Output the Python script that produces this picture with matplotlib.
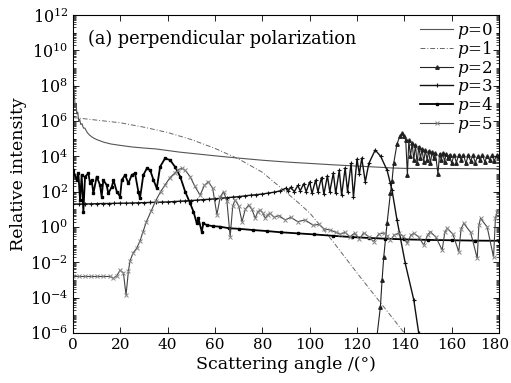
import numpy as np
import matplotlib
matplotlib.use("Agg")
import matplotlib.pyplot as plt
from matplotlib.ticker import FixedLocator, LogLocator, NullFormatter
from matplotlib.transforms import ScaledTranslation

plt.rcParams['font.family'] = ['DejaVu Serif']
plt.rcParams['mathtext.fontset'] = 'dejavuserif'

# values: angle (deg), log10(relative intensity)
p0_ang = [0, 0.3, 0.7, 1.0, 1.3, 1.6, 2.0, 2.4, 2.8, 3.3, 3.8, 4.4, 5, 6, 7, 8.5, 10, 13, 16, 20,
          25, 30, 35, 40, 45, 50, 60, 70, 80, 90, 100, 110, 120, 130, 135, 140, 150, 160, 170, 180]
p0_log = [8.4, 8.0, 7.2, 6.8, 7.0, 6.4, 6.5, 6.0, 6.1, 5.8, 5.85, 5.6, 5.6, 5.35, 5.2, 5.05, 4.95, 4.8, 4.7, 4.62,
          4.53, 4.47, 4.42, 4.33, 4.24, 4.17, 4.03, 3.9, 3.78, 3.68, 3.6, 3.52, 3.45, 3.38, 3.34, 3.32, 3.31, 3.31, 3.3, 3.3]

p1_ang = [0, 10, 20, 30, 40, 50, 60, 70, 80, 88, 95, 100, 105, 110, 120, 130, 140, 142]
p1_log = [6.2, 6.05, 5.9, 5.65, 5.35, 4.95, 4.45, 3.85, 3.1, 2.2, 1.4, 0.8, 0.0, -0.85, -2.6, -4.3, -6.0, -6.8]

p2_ang = [128.5, 129.9, 130.6, 131.3, 132.7, 134.1, 134.8, 135.5, 136.9, 138.1, 139.0, 140.0, 140.6, 141.3,
          141.9, 142.6, 143.3, 144.0, 144.7, 145.4, 146.1, 146.8, 147.5, 148.2, 148.9, 149.6, 150.3, 151.0,
          151.7, 152.4, 153.1, 154.2, 154.9, 155.6, 156.3, 157.0, 157.7, 158.4, 159.1, 160, 161, 162, 163,
          164, 165, 166, 167, 168, 169, 170, 171, 172, 173, 174, 175, 176, 177, 178, 179, 180]
p2_log = [-6.1, -4.5, -3.0, -1.7, 0.2, 1.9, 2.6, 3.6, 4.7, 5.15, 5.3, 5.15, 4.9, 2.95,
          4.9, 4.0, 4.75, 3.8, 4.65, 3.6, 4.55, 3.9, 4.4, 3.7, 4.35, 3.8, 4.3, 3.6,
          4.25, 3.9, 4.2, 3.0, 4.15, 3.8, 4.2, 3.7, 4.15, 3.9, 4.1, 3.6, 4.1, 3.65, 4.1,
          3.8, 4.1, 3.6, 4.05, 3.75, 4.05, 3.65, 4.0, 3.8, 4.05, 3.7, 4.0, 3.8, 4.05, 3.75, 4.05, 4.0]

p3_ang = [0, 2.5, 5, 7.5, 10, 12.5, 15, 17.5, 20, 22.5, 25, 27.5, 30, 32.5, 35, 37.5, 40, 42.5, 45,
          47.5, 50, 52.5, 55, 57.5, 60, 62.5, 65, 67.5, 70, 72.5, 75, 77.5, 80, 82.5, 85, 87.6,
          90, 91, 92, 93.5, 95, 96, 97.5, 98.5, 100, 101, 102.5, 103.5, 105, 106, 107.5, 108.5,
          110, 111, 112.5, 113.5, 115, 116, 117.5, 118.5, 120, 121, 122, 123.5, 125, 127.7,
          130, 132.7, 134.1, 134.8, 136.9, 140.4, 144.0, 146.1, 147]
p3_log = [1.3, 1.3, 1.31, 1.31, 1.32, 1.33, 1.33, 1.34, 1.35, 1.35, 1.36, 1.37, 1.38, 1.39, 1.4, 1.41, 1.42, 1.44, 1.46,
          1.48, 1.5, 1.52, 1.55, 1.57, 1.6, 1.63, 1.66, 1.69, 1.72, 1.76, 1.8, 1.83, 1.87, 1.92, 1.97, 2.05,
          2.2, 2.05, 2.25, 2.0, 2.35, 2.05, 2.45, 2.0, 2.55, 1.9, 2.65, 2.0, 2.8, 1.85, 2.9, 2.0,
          3.05, 1.9, 3.2, 1.8, 3.35, 2.0, 3.6, 1.7, 3.85, 3.0, 3.9, 2.56, 3.6, 4.36,
          4.0, 3.22, 2.47, 2.09, 0.4, -2.06, -4.13, -6.02, -6.8]

p4_ang = [0.1, 1.55, 2.26, 2.96, 3.66, 4.37, 5.08, 6.49, 7.19, 7.9, 8.6, 10.0, 11.4, 12.1, 12.8, 14.2,
          14.9, 16.4, 17.1, 18.5, 19.9, 20.6, 22.0, 23.4, 24.8, 26.2, 27.6, 28.3, 29.7, 31.2, 32.6,
          34.0, 35.4, 36.8, 38.9, 41.0, 43.1, 45.3, 47.4, 49.5, 50.9, 52.3, 53.0, 54.4, 55.1, 56.5,
          59, 62, 66, 70, 76, 82, 88, 95, 102, 110, 118, 125, 132, 140, 150, 160, 170, 180]
p4_log = [3.22, 2.66, 3.04, 1.53, 2.94, 0.87, 2.85, 3.04, 2.47, 2.66, 1.9, 2.85, 2.38, 1.72, 2.66, 2.38,
          1.9, 2.28, 2.66, 2.0, 1.72, 2.66, 2.94, 2.47, 2.94, 3.04, 2.0, 1.62, 2.94, 3.32, 3.22,
          2.66, 2.19, 3.41, 3.89, 3.79, 3.41, 2.85, 2.0, 1.34, 0.87, 0.21, 0.49, -0.27, 0.21, 0.11,
          0.05, 0.02, -0.07, -0.1, -0.17, -0.23, -0.3, -0.36, -0.42, -0.5, -0.57, -0.62, -0.66, -0.7,
          -0.73, -0.75, -0.77, -0.78]

p5_ang = [0, 2.5, 5, 7.5, 10, 12.5, 15.6, 17.1, 18.5, 19.9, 21.3, 22.4, 23.4, 24.1, 25.5, 26.9, 28.3,
          29.5, 31, 33, 35, 37, 39, 41, 43, 44.5, 46, 47.5, 49.5, 51.5, 53.7, 55.5, 57.2, 59, 60.8,
          62.2, 63.6, 65, 66.4, 67.5, 68.5, 70, 71.4, 72.8, 74.2, 75.6, 77.0, 78, 79.1, 80.2, 81.2,
          82.3, 83.3, 85, 87, 89.7, 92, 95, 98, 101.5, 104, 106, 108.7, 111, 113, 115, 117, 119,
          121, 122.8, 125, 127, 129.2, 131.3, 132.7, 134.1, 135.8, 137.6, 139.4, 141.2, 142.8, 144,
          146, 148.2, 149.8, 151, 153.2, 156, 157.1, 158.1, 160.5, 163, 164, 165.1, 168, 170.8,
          171.5, 172.2, 175, 177.7, 178.5, 179.2, 180]
p5_log = [-2.8, -2.8, -2.8, -2.8, -2.8, -2.8, -2.8, -2.9, -2.75, -2.45, -2.6, -3.85, -2.5, -1.9, -1.45, -1.2, -0.8,
          -0.3, 0.3, 0.9, 1.5, 2.0, 2.4, 2.8, 3.05, 3.25, 3.32, 3.2, 2.85, 2.3, 1.8, 2.35, 2.56, 2.2, 0.7,
          1.7, 2.0, 1.5, -0.55, 1.2, 1.53, 1.2, 0.3, 1.0, 1.24, 1.0, 0.49, 0.85, 0.96, 0.8, 0.49,
          0.7, 0.77, 0.55, 0.65, 0.4, 0.55, 0.3, 0.4, 0.1, 0.15, -0.1, -0.17, -0.3, -0.4, -0.3, -0.55, -0.35,
          -0.7, -0.33, -0.55, -0.83, -0.4, -0.33, -0.5, -0.74, -0.45, -0.36, -0.5, -0.92, -0.45, -0.36,
          -0.55, -1.02, -0.45, -0.27, -0.55, -1.3, -0.3, -0.07, -0.4, -1.4, -0.1, 0.21, -0.3, -1.77,
          0.1, 0.49, 0.0, -1.7, 0.5, 0.87, 0.9]

fig = plt.figure(figsize=(5.11, 3.83), dpi=100)
ax = fig.add_axes([0.1429, 0.1305, 0.8336, 0.8303])

ax.plot(p0_ang, 10.0 ** np.array(p0_log), '-', color='#555555', lw=0.8, label='$p$=0')
ax.plot(p1_ang, 10.0 ** np.array(p1_log), color='#666666', lw=0.7, dashes=(5, 2, 1, 2), label='$p$=1')
ax.plot(p2_ang, 10.0 ** np.array(p2_log), '-', color='#222222', lw=0.8, marker='^', ms=2.5, label='$p$=2')
ax.plot(p3_ang, 10.0 ** np.array(p3_log), '-', color='#111111', lw=1.0, marker='+', ms=3.5, mew=0.8, label='$p$=3')
ax.plot(p4_ang, 10.0 ** np.array(p4_log), '-', color='#000000', lw=1.3, marker='s', ms=1.8, label='$p$=4')
ax.plot(p5_ang, 10.0 ** np.array(p5_log), '-', color='#444444', lw=0.8, marker='x', ms=2.8, mew=0.7,
        mec='#888888', label='$p$=5')

ax.set_yscale('log')
ax.set_xlim(0, 180)
ax.set_ylim(1e-6, 1e12)
ax.set_xticks(range(0, 181, 20))
ax.yaxis.set_major_locator(FixedLocator([10.0 ** k for k in range(-6, 13, 2)]))
ax.yaxis.set_minor_locator(LogLocator(base=10, subs=np.arange(1, 10), numticks=100))
ax.yaxis.set_minor_formatter(NullFormatter())
ax.tick_params(which='both', direction='in', top=True, right=True, labelsize=11.5)
ax.tick_params(axis='x', labelsize=11)
ax.tick_params(which='major', length=4, width=0.6)
ax.tick_params(which='minor', length=2, width=0.5)
for s in ax.spines.values():
    s.set_linewidth(0.8)

# keep "180" inside the canvas
last = ax.xaxis.get_major_ticks()[-1].label1
last.set_transform(last.get_transform() + ScaledTranslation(-3 / 72, 0, fig.dpi_scale_trans))

ax.set_xlabel('Scattering angle /(°)', fontsize=12.5, labelpad=3)
ax.set_ylabel('Relative intensity', fontsize=12.5, labelpad=2)
ax.text(0.035, 0.955, '(a) perpendicular polarization', transform=ax.transAxes,
        fontsize=12.8, va='top', ha='left')

ax.legend(loc='upper right', frameon=False, fontsize=12, handlelength=2.0,
          handletextpad=0.2, labelspacing=-0.1, borderaxespad=0.15, borderpad=0.2,
          markerscale=1.0)

fig.savefig('out.png', dpi=100)
